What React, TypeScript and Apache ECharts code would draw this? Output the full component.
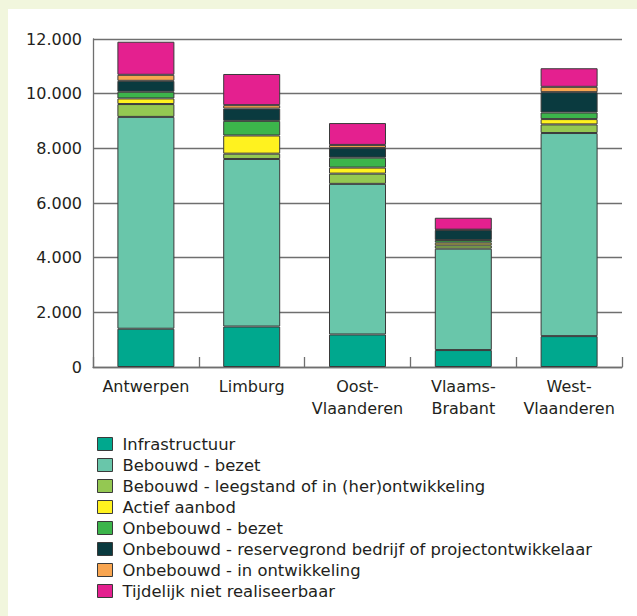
import React, { useEffect, useRef } from "react";
import * as echarts from "echarts";

const categories = ["Antwerpen", "Limburg", "Oost-\nVlaanderen", "Vlaams-\nBrabant", "West-\nVlaanderen"];
const seriesNames = [
  "Infrastructuur",
  "Bebouwd - bezet",
  "Bebouwd - leegstand of in (her)ontwikkeling",
  "Actief aanbod",
  "Onbebouwd - bezet",
  "Onbebouwd - reservegrond bedrijf of projectontwikkelaar",
  "Onbebouwd - in ontwikkeling",
  "Tijdelijk niet realiseerbaar",
];
const infrastructuur = [1400, 1480, 1190, 620, 1130];
const bebouwdBezet = [7750, 6130, 5510, 3710, 7430];
const bebouwdLeegstand = [470, 195, 375, 120, 315];
const actiefAanbod = [205, 665, 220, 100, 195];
const onbebouwdBezet = [245, 535, 365, 95, 240];
const reservegrond = [400, 450, 355, 365, 745];
const inOntwikkeling = [220, 125, 110, 15, 195];
const tijdelijk = [1210, 1140, 800, 435, 680];
const yTicks = [0, 2000, 4000, 6000, 8000, 10000, 12000];
const colors = ["#00a88e", "#69c6aa", "#94c852", "#fff21f", "#3cb54b", "#0a3a3f", "#f8a550", "#e4208f"];

const allValues = [infrastructuur, bebouwdBezet, bebouwdLeegstand, actiefAanbod, onbebouwdBezet, reservegrond, inOntwikkeling, tijdelijk];

export default function App() {
  const ref = useRef<HTMLDivElement>(null);
  useEffect(() => {
    if (!ref.current) return;
    const chart = echarts.init(ref.current, null, { renderer: "svg" });
    const font = "'DejaVu Sans', 'Open Sans', sans-serif";
    chart.setOption({
      animation: false,
      backgroundColor: "#f1f6dd",
      textStyle: { fontFamily: font },
      graphic: [
        { type: "rect", shape: { x: 8, y: 9, width: 640, height: 620 }, style: { fill: "#ffffff" }, z: -10 },
      ],
      grid: { left: 93, right: 15, top: 39, bottom: 249 },
      xAxis: {
        type: "category",
        data: categories,
        axisLine: { show: true, lineStyle: { color: "#6f6f6f", width: 1.3 } },
        axisTick: { show: true, inside: true, length: 10, lineStyle: { color: "#6f6f6f", width: 1.3 } },
        axisLabel: { interval: 0, color: "#231f20", fontSize: 16, lineHeight: 22, margin: 8, fontFamily: font },
      },
      yAxis: {
        type: "value",
        min: yTicks[0],
        max: yTicks[yTicks.length - 1],
        interval: 2000,
        axisLine: { show: true, lineStyle: { color: "#6f6f6f", width: 1.3 } },
        axisTick: { show: false },
        splitLine: { show: true, lineStyle: { color: "#6f6f6f", width: 1.3 } },
        axisLabel: {
          color: "#231f20",
          fontSize: 16,
          margin: 11,
          fontFamily: font,
          formatter: (v: number) => (v === 0 ? "0" : (v / 1000).toFixed(0) + ".000"),
        },
      },
      legend: {
        orient: "vertical",
        left: 92,
        top: 430,
        itemWidth: 15,
        itemHeight: 13,
        itemGap: 3,
        icon: "rect",
        data: seriesNames,
        itemStyle: { borderColor: "#3a3a3a", borderWidth: 1 },
        textStyle: { color: "#231f20", fontSize: 16.4, lineHeight: 18, fontFamily: font, padding: [0, 0, 0, 5] },
      },
      series: seriesNames.map((name, i) => ({
        name,
        type: "bar",
        stack: "total",
        barWidth: 57,
        data: allValues[i],
        itemStyle: { color: colors[i], borderColor: "#3a3a3a", borderWidth: 1 },
      })),
    });
    return () => chart.dispose();
  }, []);
  return (
    <div
      ref={ref}
      style={{ position: "fixed", left: 0, top: 0, width: 637, height: 616 }}
    />
  );
}
